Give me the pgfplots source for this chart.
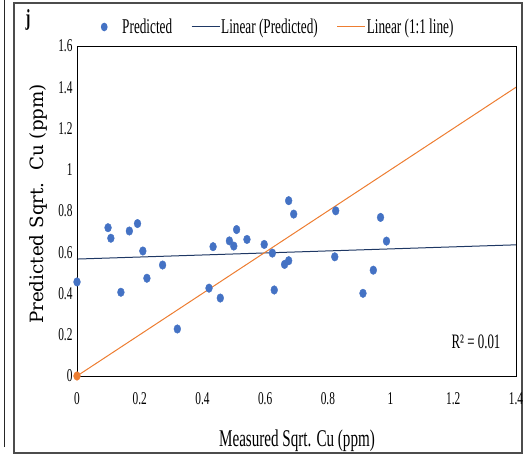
\documentclass[border=0pt]{standalone}
\usepackage{pgfplots}
\pgfplotsset{compat=1.18}
\usepackage{fontspec}
\setmainfont{Liberation Serif}[FakeStretch=0.63]
\newfontfamily\ylabfont{DejaVu Serif}
\definecolor{ptblue}{HTML}{4472C4}
\definecolor{trendblue}{HTML}{1F3864}
\definecolor{oneorange}{HTML}{ED7D31}
\begin{document}
\begin{tikzpicture}[x=1pt,y=1pt]
\useasboundingbox (0,0) rectangle (527,458);
\draw[gray!60!black, line width=1.1pt] (14,5) rectangle (522,455);
\draw[black!85, line width=0.9pt] (4.5,11) -- (4.5,458);
\node[anchor=base] at (28,432) {\fontsize{23}{23}\selectfont\textbf{j}};
\node[rotate=90, anchor=center] at (38,254) {\ylabfont\fontsize{18.3}{18.3}\selectfont Predicted Sqrt.\ \ Cu (ppm)};
\node[anchor=base] at (297,12) {\fontsize{24}{24}\selectfont Measured Sqrt. Cu (ppm)};
\begin{axis}[
  at={(77pt,82pt)}, anchor=south west,
  scale only axis, width=439pt, height=330pt,
  xmin=0, xmax=1.4, ymin=0, ymax=1.6,
  xtick={0,0.2,0.4,0.6,0.8,1,1.2,1.4},
  ytick={0,0.2,0.4,0.6,0.8,1,1.2,1.4,1.6},
  major tick length=0pt,
  axis line style={black, line width=0.9pt},
  /pgf/number format/assume math mode=true,
  tick label style={font=\fontsize{18}{18}\selectfont},
  xticklabel style={yshift=-13pt},
  yticklabel style={xshift=-1pt},
  clip=false,
  legend columns=3,
  legend style={draw=none, fill=none, at={(axis description cs:0.453,1.0576)}, anchor=center,
    font=\fontsize{21}{21}\selectfont,
    /tikz/every even column/.append style={column sep=18pt},
    inner sep=0pt, nodes={inner xsep=1pt}},
]
\addplot[only marks, mark=*, mark size=4.3pt, mark options={xscale=0.79, draw=ptblue, fill=ptblue},
  legend image code/.code={\fill[ptblue, draw=none] (7pt,0pt) ellipse (3.4pt and 4.3pt); \path[draw=none, fill=none] (0pt,0pt) (24pt,0pt);}]
coordinates {
(0.000,0.456) (0.099,0.719) (0.108,0.668) (0.140,0.406) (0.167,0.703)
(0.193,0.739) (0.210,0.606) (0.223,0.474) (0.273,0.538) (0.320,0.228)
(0.421,0.426) (0.434,0.627) (0.457,0.378) (0.486,0.655) (0.500,0.630)
(0.509,0.710) (0.542,0.662) (0.597,0.638) (0.623,0.596) (0.629,0.417)
(0.662,0.541) (0.675,0.559) (0.675,0.850) (0.691,0.785) (0.825,0.801)
(0.822,0.578) (0.912,0.401) (0.945,0.513) (0.968,0.769) (0.987,0.654)
};
\addlegendentry{Predicted}
\addplot[trendblue, line width=1pt, no marks,
  legend image code/.code={\draw[trendblue, line width=1pt] (0pt,0pt) -- (28pt,0pt);}]
coordinates {(0,0.567) (1.4,0.636)};
\addlegendentry{Linear (Predicted)}
\addplot[oneorange, line width=1pt, no marks,
  legend image code/.code={\draw[oneorange, line width=1pt] (0pt,0pt) -- (28pt,0pt);}]
coordinates {(0,0) (1.4,1.4)};
\addlegendentry{Linear (1:1 line)}
\addplot[only marks, mark=*, mark size=4.3pt, mark options={xscale=0.79, draw=oneorange, fill=oneorange}, forget plot]
coordinates {(0,0)};
\draw[black, line width=0.9pt] (rel axis cs:0,0) rectangle (rel axis cs:1,1);
\node[anchor=base east, font=\fontsize{20.5}{20.5}\selectfont] at (axis cs:1.3617,0.131) {R² = 0.01};
\end{axis}
\end{tikzpicture}
\end{document}
